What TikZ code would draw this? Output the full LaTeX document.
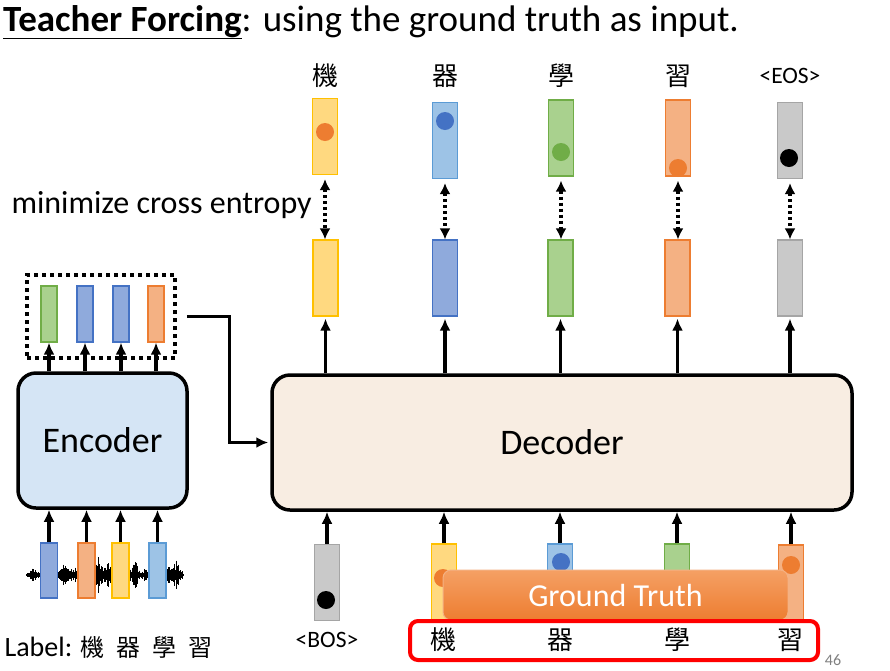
\documentclass[tikz,border=0pt]{standalone}
\usepackage{fontspec}
\setmainfont{Carlito}
\newfontfamily\cjk{Noto Sans CJK TC}
\usetikzlibrary{arrows.meta, positioning, calc}
\definecolor{yelf}{RGB}{255,217,128}
\definecolor{yelb}{RGB}{255,192,0}
\definecolor{lbluf}{RGB}{157,195,230}
\definecolor{lblub}{RGB}{91,155,213}
\definecolor{dbluf}{RGB}{143,170,220}
\definecolor{dblub}{RGB}{68,114,196}
\definecolor{grnf}{RGB}{169,209,142}
\definecolor{grnb}{RGB}{112,173,71}
\definecolor{orgf}{RGB}{244,177,131}
\definecolor{orgb}{RGB}{237,125,49}
\definecolor{gryf}{RGB}{201,201,201}
\definecolor{gryb}{RGB}{165,165,165}
\definecolor{decf}{RGB}{248,237,226}
\definecolor{encf}{RGB}{213,229,245}
\definecolor{gtt}{RGB}{245,160,100}

\begin{document}
\begin{tikzpicture}[x=1pt, y=-1pt,
    vec/.style={draw, line width=1.2pt, minimum width=25pt, minimum height=76pt, inner sep=0pt},
    svec/.style={draw, line width=1.2pt, minimum width=16pt, minimum height=56pt, inner sep=0pt},
    dot/.style={circle, inner sep=0pt, minimum size=18pt},
    blk/.style={draw, line width=3.5pt, rounded corners=18pt, font=\fontsize{36}{40}\selectfont},
    arr/.style={-{Latex[length=12pt,width=11pt]}, line width=3.2pt},
    cmp/.style={{Latex[length=11pt,width=11pt]}-{Latex[length=11pt,width=11pt]}, line width=3.2pt,
      dash pattern=on 3pt off 3pt},
    zh/.style={font=\fontsize{26}{30}\selectfont\cjk},
    tok/.style={font=\fontsize{23.5}{28}\selectfont}]
  \useasboundingbox (0,0) rectangle (890,670);
  \node[anchor=base west, inner sep=0pt, font=\fontsize{37}{44}\selectfont] (ttl) at (3,31)
    {\underline{\textbf{Teacher Forcing}}: using the ground truth as input.};

  \node[zh] (t1) at (325,76) {機};
  \node[zh] (t2) at (445,76) {器};
  \node[zh] (t3) at (561,76) {學};
  \node[zh] (t4) at (678,76) {習};
  \node[tok] (t5) at (790,76) {<EOS>};

  \node[vec, fill=yelf, draw=yelb] (p1) at (325,136.5) {};
  \node[vec, fill=lbluf, draw=lblub] (p2) at (445,140.5) {};
  \node[vec, fill=grnf, draw=grnb] (p3) at (561,138) {};
  \node[vec, fill=orgf, draw=orgb] (p4) at (678,138) {};
  \node[vec, fill=gryf, draw=gryb] (p5) at (790,140.5) {};
  \node[dot, fill=orgb] (d1) at (325,132) {};
  \node[dot, fill=dblub] (d2) at (445,121) {};
  \node[dot, fill=grnb] (d3) at (561,152) {};
  \node[dot, fill=orgb] (d4) at (678,168) {};
  \node[dot, fill=black] (d5) at (789,158) {};

  \node[anchor=west, font=\fontsize{32}{36}\selectfont] (mce) at (8,205) {minimize cross entropy};

  \node[vec, fill=yelf, draw=yelb] (y1) at (325.5,278) {};
  \node[vec, fill=dbluf, draw=dblub] (y2) at (445,278) {};
  \node[vec, fill=grnf, draw=grnb] (y3) at (560.5,278) {};
  \node[vec, fill=orgf, draw=orgb] (y4) at (677.5,278) {};
  \node[vec, fill=gryf, draw=gryb] (y5) at (790,278) {};
  \foreach \i in {1,...,5}
    \draw[cmp] ([yshift=-4pt]p\i.south) -- (p\i.south |- y\i.north);

  \node[blk, fill=decf, minimum width=580pt, minimum height=135pt] (dec) at (562,442.5) {Decoder};
  \foreach \i in {1,...,5}
    \draw[arr] (y\i |- dec.north) -- ([yshift=-2pt]y\i.south);

  \node[blk, fill=encf, minimum width=169pt, minimum height=135pt] (enc) at (102.5,440.5) {Encoder};
  \node[svec, fill=grnf, draw=grnb] (e1) at (49,314) {};
  \node[svec, fill=dbluf, draw=dblub] (e2) at (85,314) {};
  \node[svec, fill=dbluf, draw=dblub] (e3) at (121,314) {};
  \node[svec, fill=orgf, draw=orgb] (e4) at (156,314) {};
  \node[draw, line width=3.5pt, dash pattern=on 4pt off 4pt, minimum width=148pt,
    minimum height=83pt] (mem) at (101,316.5) {};
  \foreach \i in {1,...,4}
    \draw[arr] (e\i |- enc.north) -- (e\i.south);
  \draw[arr] ([xshift=10pt]mem.east) -- ++(43,0) |- ([xshift=-2pt]dec.west);

  \pgfmathsetseed{3}
  \draw[line width=0.8pt] (28,575) -- (183,575);
  \foreach \c/\a in {33/7, 64/12, 74/9, 98/18, 108/14, 135/15, 146/8, 168/10, 176/16}
    \foreach \d in {-7,-6.5,...,7}{
      \pgfmathsetmacro\h{\a*(0.25+0.75*rnd)*(1-abs(\d)/8)}
      \draw[line width=0.8pt] (\c+\d,575-\h) -- (\c+\d,575+\h);
    }
  \node[svec, minimum width=17pt, minimum height=55pt, fill=dbluf, draw=dblub] (a1) at (49,570.5) {};
  \node[svec, minimum width=17pt, minimum height=55pt, fill=orgf, draw=orgb] (a2) at (86.5,570.5) {};
  \node[svec, minimum width=17pt, minimum height=55pt, fill=yelf, draw=yelb] (a3) at (120.5,570.5) {};
  \node[svec, minimum width=17pt, minimum height=55pt, fill=lbluf, draw=lblub] (a4) at (157.5,570.5) {};
  \foreach \i in {1,...,4}
    \draw[arr] (a\i.north) -- (a\i |- enc.south);

  \node[anchor=west, font=\fontsize{28}{32}\selectfont] (lab) at (1,647)
    {Label: {\fontsize{24}{28}\selectfont\cjk 機\hspace{12pt}器\hspace{12pt}學\hspace{12pt}習}};

  \node[vec, fill=gryf, draw=gryb] (i0) at (327,582.5) {};
  \node[dot, fill=black] (g0) at (326,600) {};
  \node[tok] (bos) at (327,640) {<BOS>};
  \node[vec, fill=yelf, draw=yelb] (i1) at (444,582) {};
  \node[dot, fill=orgb] (g1) at (443,578) {};
  \node[vec, fill=lbluf, draw=lblub] (i2) at (560,582) {};
  \node[dot, fill=dblub] (g2) at (561,562) {};
  \node[vec, fill=grnf, draw=grnb] (i3) at (677,582) {};
  \node[vec, fill=orgf, draw=orgb] (i4) at (791,583) {};
  \node[dot, fill=orgb] (g4) at (791,565) {};
  \foreach \i in {0,...,4}
    \draw[arr] (i\i.north) -- (i\i |- dec.south);

  \node[rounded corners=8pt, draw=orgf, line width=1pt, top color=gtt, bottom color=orgb,
    minimum width=345pt, minimum height=50pt, text=white, font=\fontsize{32}{36}\selectfont]
    (gt) at (615.5,595) {Ground Truth};
  \node[draw=red, line width=4pt, rounded corners=8pt, minimum width=408pt,
    minimum height=39pt] (gtbox) at (614,640.5) {};
  \node[zh] (c1) at (443,640) {機};
  \node[zh] (c2) at (560,640) {器};
  \node[zh] (c3) at (677,640) {學};
  \node[zh] (c4) at (790,640) {習};
  \node[text=gray, font=\fontsize{16}{18}\selectfont] (pg) at (833,660) {46};
\end{tikzpicture}
\end{document}
